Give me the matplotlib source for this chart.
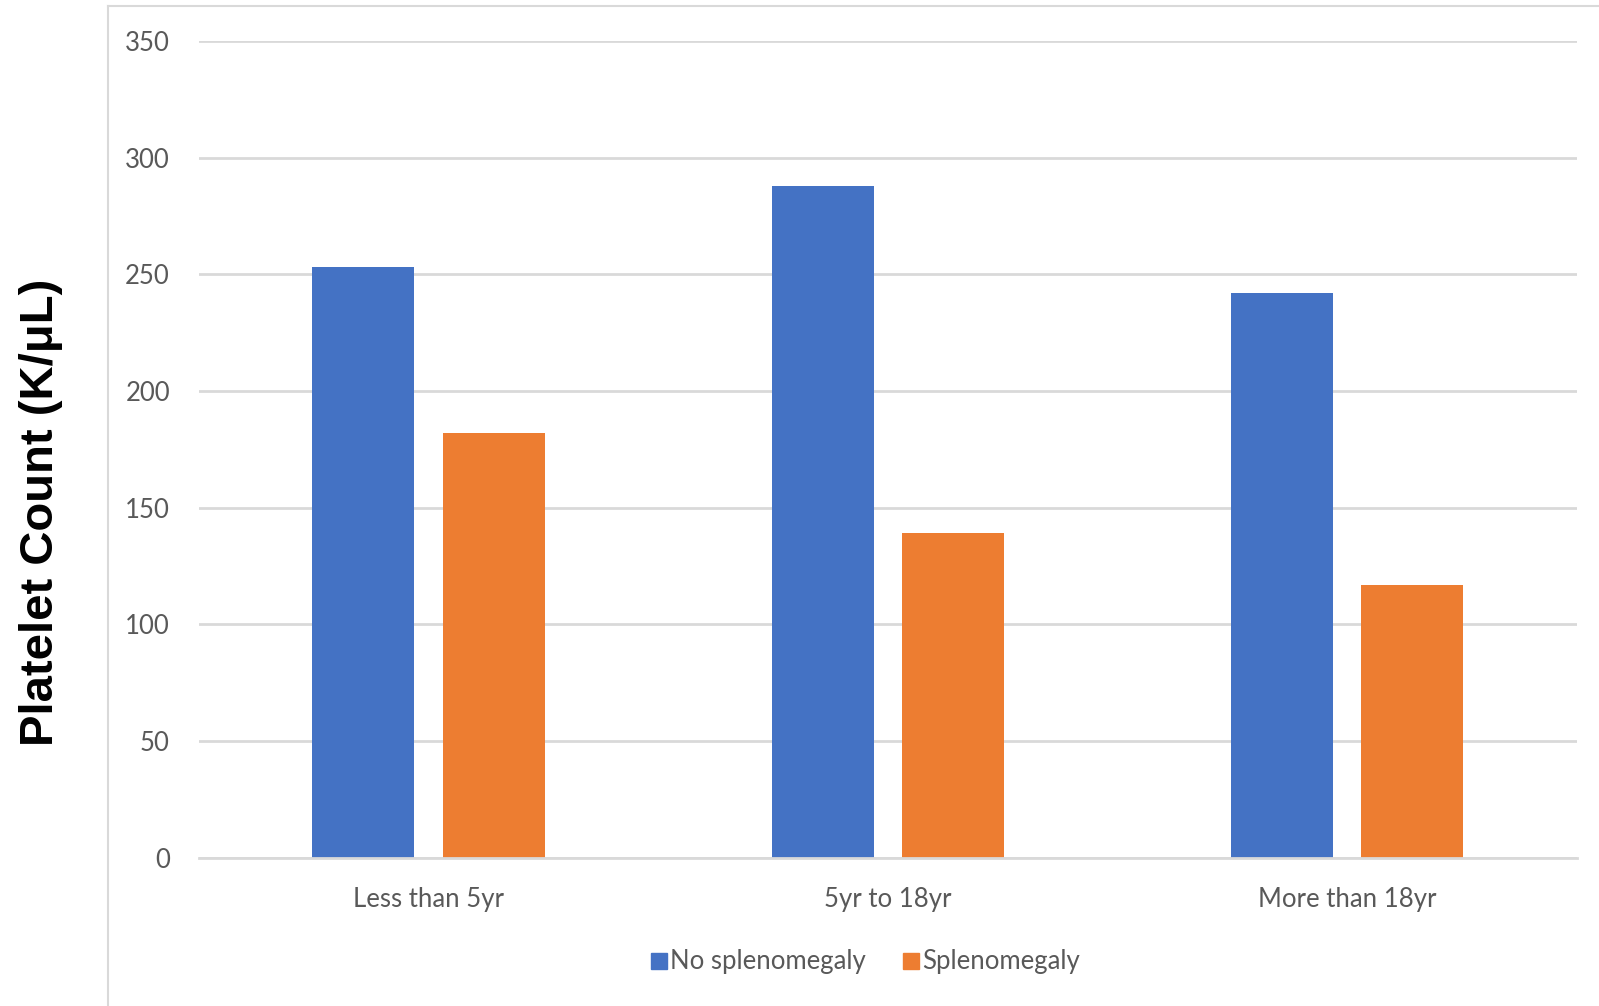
import numpy as np
import matplotlib.pyplot as plt
from matplotlib.lines import Line2D

# Datos
categorias = ["Less than 5yr", "5yr to 18yr", "More than 18yr"]
sin_esplenomegalia = [253, 288, 242]
con_esplenomegalia = [182, 139, 117]
series = ["No splenomegaly", "Splenomegaly"]
yticks = [0, 50, 100, 150, 200, 250, 300, 350]

azul = "#4472C4"
naranja = "#ED7D31"
gris_txt = "#595959"
gris_lin = "#D9D9D9"

plt.rcParams['font.family'] = ['Lato', 'DejaVu Sans']

fig = plt.figure(figsize=(15.99, 10.06), dpi=100)
ax = fig.add_axes([0.1245, 0.1474, 0.8615, 0.812])

x = np.arange(len(categorias))
ancho = 0.222
ax.bar(x - 0.142, sin_esplenomegalia, ancho, color=azul, label=series[0], zorder=3)
ax.bar(x + 0.142, con_esplenomegalia, ancho, color=naranja, label=series[1], zorder=3)

ax.set_xlim(-0.5, 2.5)
ax.set_ylim(0, 350)
ax.set_yticks(yticks)
ax.set_yticklabels([str(v) for v in yticks])
ax.set_xticks(x)
ax.set_xticklabels(categorias)
ax.tick_params(axis='both', length=0, labelsize=18.5, colors=gris_txt)
ax.tick_params(axis='y', pad=21)
ax.tick_params(axis='x', pad=21)
ax.yaxis.grid(True, color=gris_lin, linewidth=2, zorder=0)
ax.set_axisbelow(True)
for s in ["top", "right", "left"]:
    ax.spines[s].set_visible(False)
ax.spines["bottom"].set_color(gris_lin)
ax.spines["bottom"].set_linewidth(2)
ax.spines["bottom"].set_zorder(4)

# Etiqueta del eje Y
fig.text(41 / 1599, 1 - 512 / 1006, "Platelet Count (K/\u03bcL)", rotation=90,
         ha="center", va="center", fontsize=34, fontweight="bold",
         family=["Liberation Sans", "DejaVu Sans"], color="black")

# Leyenda
handles = [Line2D([], [], marker="s", linestyle="none", markersize=11.5, color=azul),
           Line2D([], [], marker="s", linestyle="none", markersize=11.5, color=naranja)]
leg = fig.legend(handles, series, loc="center", bbox_to_anchor=(865 / 1599, 1 - 962 / 1006),
                 ncol=2, frameon=False, fontsize=18.5, handletextpad=0.1,
                 columnspacing=1.4, handlelength=0.7)
for t in leg.get_texts():
    t.set_color(gris_txt)

# Borde del area del grafico
fig.add_artist(Line2D([108 / 1599, 108 / 1599], [0.0, 1 - 6 / 1006],
                      transform=fig.transFigure, color=gris_lin, linewidth=1.5))
fig.add_artist(Line2D([108 / 1599, 1.0], [1 - 6 / 1006, 1 - 6 / 1006],
                      transform=fig.transFigure, color=gris_lin, linewidth=1.5))

plt.savefig("out.png", dpi=100)
